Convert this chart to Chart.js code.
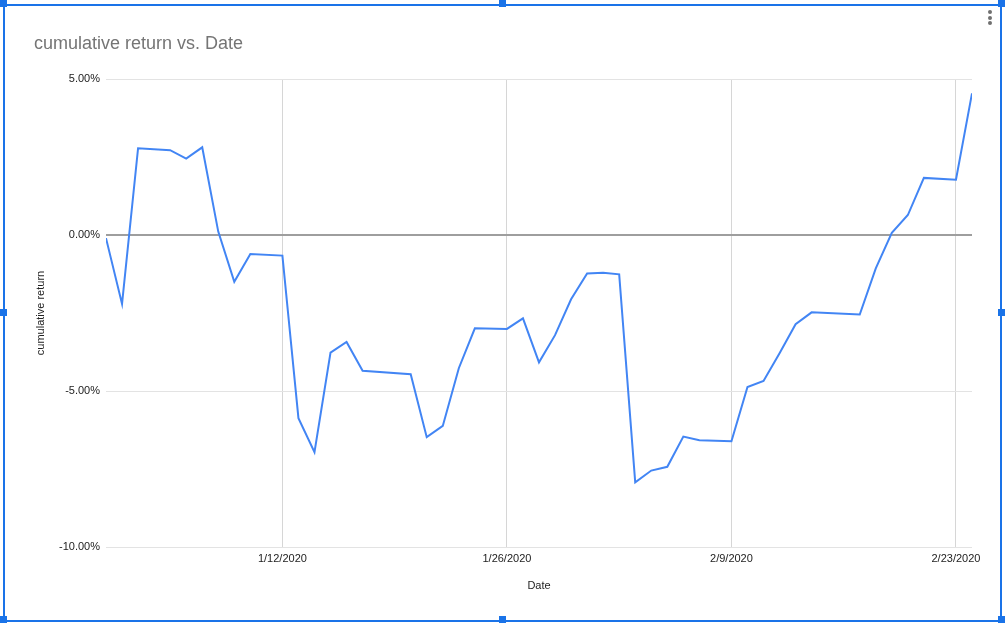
<!DOCTYPE html>
<html>
<head>
<meta charset="utf-8">
<script src="https://cdn.jsdelivr.net/npm/chart.js@4.4.1/dist/chart.umd.min.js"></script>
<style>
html,body{margin:0;padding:0;background:#fff;overflow:hidden;}
#wrap{position:relative;width:1005px;height:623px;}
#c{position:absolute;left:0;top:0;}
.frame{position:absolute;left:3px;top:4px;width:999px;height:618px;box-sizing:border-box;border:2px solid #1a73e8;pointer-events:none;}
.h{position:absolute;width:7px;height:7px;background:#1a73e8;}
.dot{position:absolute;width:4px;height:4px;border-radius:50%;background:#707070;}
</style>
</head>
<body>
<div id="wrap">
<canvas id="c" width="1005" height="623"></canvas>
<div class="frame"></div>
<div class="h" style="left:0;top:0"></div>
<div class="h" style="left:499px;top:0"></div>
<div class="h" style="left:998px;top:0"></div>
<div class="h" style="left:0;top:309px"></div>
<div class="h" style="left:998px;top:309px"></div>
<div class="h" style="left:0;top:616px"></div>
<div class="h" style="left:499px;top:616px"></div>
<div class="h" style="left:998px;top:616px"></div>
<div class="dot" style="left:988px;top:10px"></div>
<div class="dot" style="left:988px;top:16px"></div>
<div class="dot" style="left:988px;top:21px"></div>
</div>
<script>
const dateLabels = ['1/1/2020','1/2/2020','1/3/2020','1/5/2020','1/6/2020','1/7/2020','1/8/2020','1/9/2020','1/10/2020',
  '1/12/2020','1/13/2020','1/14/2020','1/15/2020','1/16/2020','1/17/2020','1/20/2020','1/21/2020','1/22/2020','1/23/2020','1/24/2020',
  '1/26/2020','1/27/2020','1/28/2020','1/29/2020','1/30/2020','1/31/2020','2/1/2020','2/2/2020','2/3/2020','2/4/2020','2/5/2020','2/6/2020','2/7/2020',
  '2/9/2020','2/10/2020','2/11/2020','2/12/2020','2/13/2020','2/14/2020','2/17/2020','2/18/2020','2/19/2020','2/20/2020','2/21/2020',
  '2/23/2020','2/24/2020'];
const cumulativeReturn = [-0.10,-2.21,2.78,2.72,2.45,2.81,0.11,-1.50,-0.61,
  -0.66,-5.87,-6.96,-3.77,-3.43,-4.35,-4.46,-6.48,-6.12,-4.27,-2.99,
  -3.01,-2.67,-4.08,-3.21,-2.06,-1.23,-1.21,-1.26,-7.93,-7.55,-7.43,-6.46,-6.58,
  -6.61,-4.87,-4.68,-3.79,-2.86,-2.48,-2.55,-1.07,0.07,0.64,1.83,
  1.77,4.54];
const xTickLabels = ['1/12/2020','1/26/2020','2/9/2020','2/23/2020'];
const xRange = ['1/1/2020','2/24/2020'];
const yTickValues = [-10, -5, 0, 5];

function toDay(s){ const p = s.split('/').map(Number); return Date.UTC(p[2], p[0]-1, p[1]) / 86400000; }
function fmtDay(v){ const d = new Date(v * 86400000); return (d.getUTCMonth()+1) + '/' + d.getUTCDate() + '/' + d.getUTCFullYear(); }

const FONT = "Arial, 'Liberation Sans', sans-serif";
const points = dateLabels.map((d, i) => ({x: toDay(d), y: cumulativeReturn[i]}));

new Chart(document.getElementById('c'), {
  type: 'line',
  data: { datasets: [{
    label: 'cumulative return',
    data: points,
    borderColor: '#4285f4',
    borderWidth: 2,
    pointRadius: 0,
    tension: 0,
    fill: false
  }]},
  options: {
    responsive: false,
    animation: false,
    devicePixelRatio: 1,
    layout: { padding: { left: 34, right: 33, top: 0, bottom: 0 } },
    plugins: {
      legend: { display: false },
      tooltip: { enabled: false },
      title: {
        display: true,
        text: 'cumulative return vs. Date',
        align: 'start',
        color: '#757575',
        font: { family: FONT, size: 18, weight: 'normal' },
        padding: { top: 33, bottom: 24.4 }
      }
    },
    scales: {
      x: {
        type: 'linear',
        min: toDay(xRange[0]),
        max: toDay(xRange[1]),
        afterBuildTicks: s => { s.ticks = xTickLabels.map(t => ({ value: toDay(t) })); },
        afterFit: s => { s.height = 76; },
        ticks: {
          callback: v => fmtDay(v),
          autoSkip: false, maxRotation: 0,
          color: '#222', font: { family: FONT, size: 11 }, padding: 5
        },
        grid: { color: '#d6d6d6', lineWidth: 1, drawTicks: false },
        border: { display: false },
        title: { display: true, text: 'Date', color: '#222', font: { family: FONT, size: 11 }, padding: { top: 0, bottom: 30 } }
      },
      y: {
        type: 'linear',
        min: -10, max: 5,
        afterBuildTicks: s => { s.ticks = yTickValues.map(v => ({ value: v })); },
        afterFit: s => { s.width = 72; },
        ticks: {
          callback: v => Number(v).toFixed(2) + '%',
          color: '#222', font: { family: FONT, size: 11 }, padding: 6
        },
        grid: {
          color: c => (c.tick && c.tick.value === 0) ? '#9e9e9e' : '#e3e3e3',
          lineWidth: c => (c.tick && c.tick.value === 0) ? 2 : 1,
          drawTicks: false
        },
        border: { display: false },
        title: { display: true, text: 'cumulative return', color: '#222', font: { family: FONT, size: 11 }, padding: { top: 0, bottom: 0 } }
      }
    }
  }
});
</script>
</body>
</html>
